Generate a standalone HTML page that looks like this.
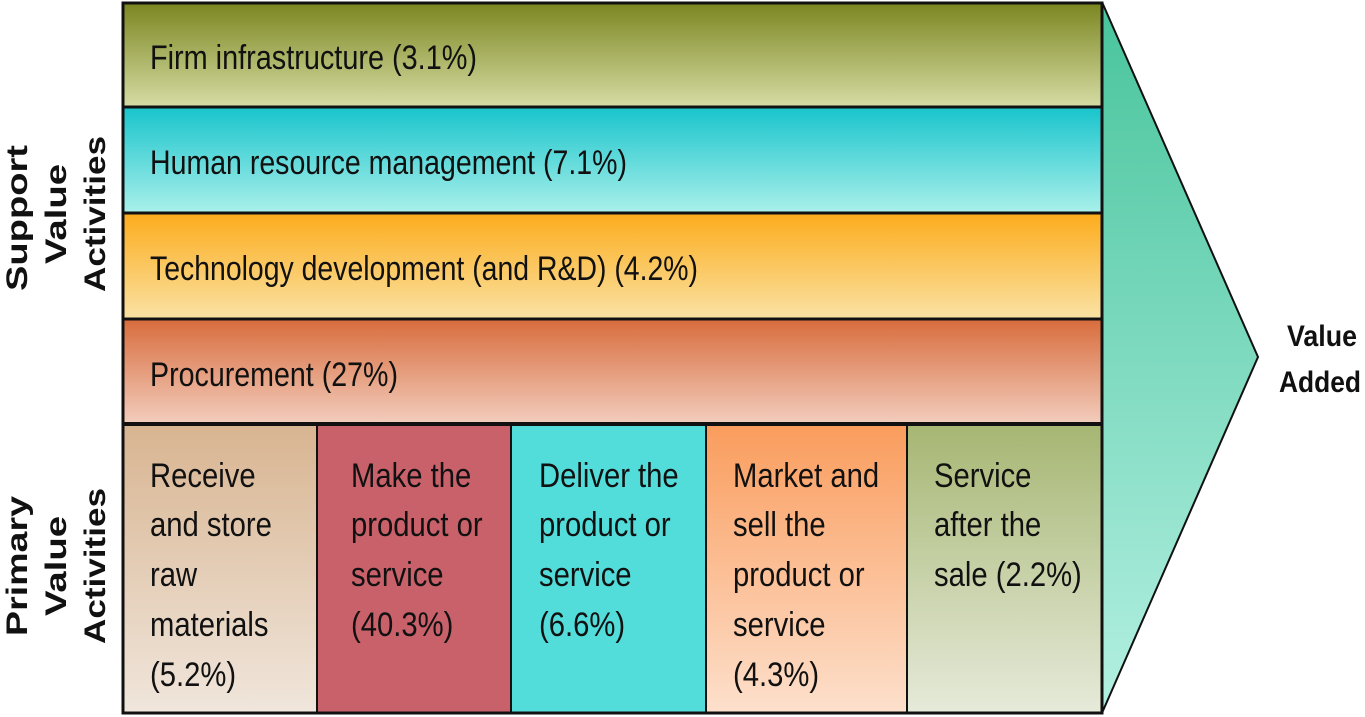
<!DOCTYPE html>
<html><head><meta charset="utf-8"><style>
html,body{margin:0;padding:0;background:#fff;}
svg{display:block;}
text{font-family:"Liberation Sans Narrow","Liberation Sans",sans-serif;font-size:34px;fill:#111;}
.b{font-family:"Liberation Sans",sans-serif;font-weight:bold;font-size:30px;}
</style></head><body>
<svg width="1365" height="717" viewBox="0 0 1365 717" xmlns="http://www.w3.org/2000/svg">
<defs>
<linearGradient id="g1" x1="0" y1="0" x2="0" y2="1"><stop offset="0" stop-color="#7b8620"/><stop offset="1" stop-color="#d6dca4"/></linearGradient>
<linearGradient id="g2" x1="0" y1="0" x2="0" y2="1"><stop offset="0" stop-color="#18c4cc"/><stop offset="1" stop-color="#aaf0ea"/></linearGradient>
<linearGradient id="g3" x1="0" y1="0" x2="0" y2="1"><stop offset="0" stop-color="#fcac1c"/><stop offset="1" stop-color="#fae2a4"/></linearGradient>
<linearGradient id="g4" x1="0" y1="0" x2="0" y2="1"><stop offset="0" stop-color="#d86c3c"/><stop offset="1" stop-color="#f2ccbc"/></linearGradient>
<linearGradient id="c1" x1="0" y1="0" x2="0" y2="1"><stop offset="0" stop-color="#d8b490"/><stop offset="1" stop-color="#f0e6dc"/></linearGradient>
<linearGradient id="c4" x1="0" y1="0" x2="0" y2="1"><stop offset="0" stop-color="#fa9c5c"/><stop offset="1" stop-color="#fde0cc"/></linearGradient>
<linearGradient id="c5" x1="0" y1="0" x2="0" y2="1"><stop offset="0" stop-color="#a6b672"/><stop offset="1" stop-color="#e6eada"/></linearGradient>
<linearGradient id="ar" x1="0" y1="0" x2="0" y2="1"><stop offset="0" stop-color="#48c49c"/><stop offset="1" stop-color="#b4f0e2"/></linearGradient>
</defs>
<polygon points="1102,2 1258,357 1102,713" fill="url(#ar)" stroke="#111" stroke-width="2"/>
<rect x="123" y="3" width="979" height="104" fill="url(#g1)"/>
<rect x="123" y="107" width="979" height="106" fill="url(#g2)"/>
<rect x="123" y="213" width="979" height="106" fill="url(#g3)"/>
<rect x="123" y="319" width="979" height="104" fill="url(#g4)"/>
<rect x="123" y="423" width="194" height="290" fill="url(#c1)"/>
<rect x="317" y="423" width="194" height="290" fill="#c8616a"/>
<rect x="511" y="423" width="195" height="290" fill="#52dcda"/>
<rect x="706" y="423" width="201" height="290" fill="url(#c4)"/>
<rect x="907" y="423" width="195" height="290" fill="url(#c5)"/>
<g stroke="#111" fill="none">
<rect x="123" y="3" width="979" height="710" stroke-width="3"/>
<line x1="123" y1="107" x2="1102" y2="107" stroke-width="3"/>
<line x1="123" y1="213" x2="1102" y2="213" stroke-width="3"/>
<line x1="123" y1="319" x2="1102" y2="319" stroke-width="3"/>
<line x1="123" y1="424" x2="1102" y2="424" stroke-width="4"/>
<line x1="317" y1="424" x2="317" y2="713" stroke-width="2"/>
<line x1="511" y1="424" x2="511" y2="713" stroke-width="2"/>
<line x1="706" y1="424" x2="706" y2="713" stroke-width="2"/>
<line x1="907" y1="424" x2="907" y2="713" stroke-width="2"/>
</g>
<text x="150" y="69" textLength="327" lengthAdjust="spacingAndGlyphs">Firm infrastructure (3.1%)</text>
<text x="150" y="174" textLength="477" lengthAdjust="spacingAndGlyphs">Human resource management (7.1%)</text>
<text x="150" y="280" textLength="548" lengthAdjust="spacingAndGlyphs">Technology development (and R&amp;D) (4.2%)</text>
<text x="150" y="386" textLength="248" lengthAdjust="spacingAndGlyphs">Procurement (27%)</text>
<g transform="translate(150 0) scale(0.86 1)">
<text x="0" y="487">Receive</text><text x="0" y="536">and store</text><text x="0" y="586">raw</text><text x="0" y="636">materials</text><text x="0" y="686">(5.2%)</text>
</g>
<g transform="translate(351 0) scale(0.86 1)">
<text x="0" y="487">Make the</text><text x="0" y="536">product or</text><text x="0" y="586">service</text><text x="0" y="636">(40.3%)</text>
</g>
<g transform="translate(539 0) scale(0.86 1)">
<text x="0" y="487">Deliver the</text><text x="0" y="536">product or</text><text x="0" y="586">service</text><text x="0" y="636">(6.6%)</text>
</g>
<g transform="translate(733 0) scale(0.86 1)">
<text x="0" y="487">Market and</text><text x="0" y="536">sell the</text><text x="0" y="586">product or</text><text x="0" y="636">service</text><text x="0" y="686">(4.3%)</text>
</g>
<g transform="translate(934 0) scale(0.86 1)">
<text x="0" y="487">Service</text><text x="0" y="536">after the</text><text x="0" y="586">sale (2.2%)</text>
</g>
<g text-anchor="middle">
<text class="b" transform="translate(27,218) rotate(-90)" textLength="146" lengthAdjust="spacingAndGlyphs">Support</text>
<text class="b" transform="translate(66,214) rotate(-90)" textLength="100" lengthAdjust="spacingAndGlyphs">Value</text>
<text class="b" transform="translate(105,214) rotate(-90)" textLength="156" lengthAdjust="spacingAndGlyphs">Activities</text>
<text class="b" transform="translate(27,566) rotate(-90)" textLength="140" lengthAdjust="spacingAndGlyphs">Primary</text>
<text class="b" transform="translate(66,566) rotate(-90)" textLength="100" lengthAdjust="spacingAndGlyphs">Value</text>
<text class="b" transform="translate(105,566) rotate(-90)" textLength="156" lengthAdjust="spacingAndGlyphs">Activities</text>
<text class="b" x="1322" y="346" textLength="70" lengthAdjust="spacingAndGlyphs">Value</text>
<text class="b" x="1320" y="392" textLength="82" lengthAdjust="spacingAndGlyphs">Added</text>
</g>
</svg>
</body></html>
